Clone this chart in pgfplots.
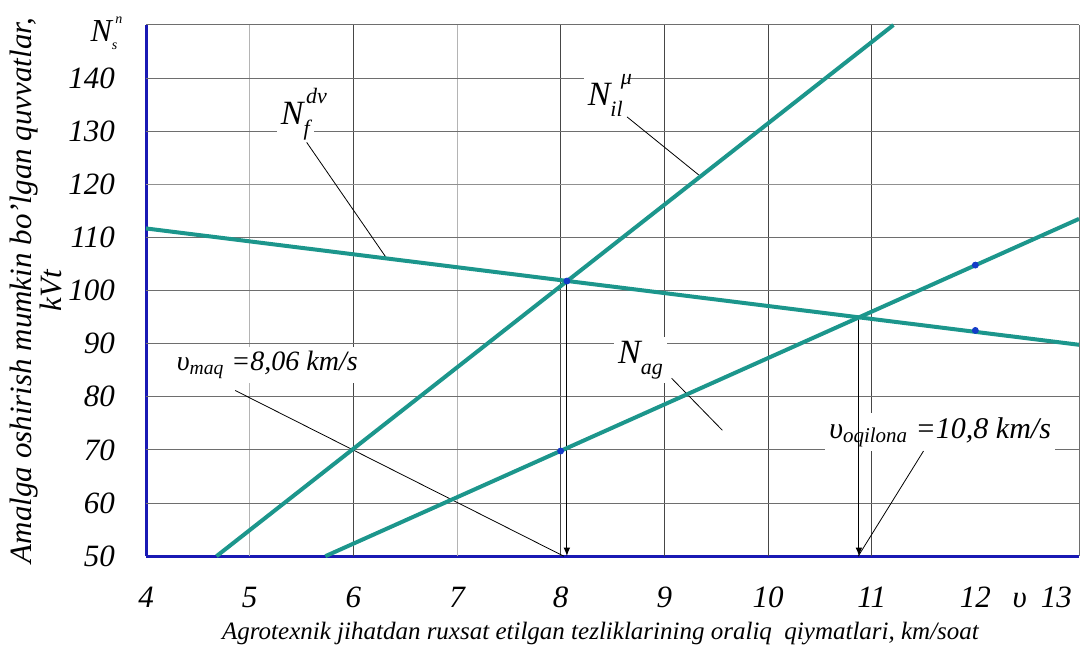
\documentclass[border=0pt]{standalone}
\usepackage{fontspec}
\setmainfont{Liberation Serif}
\usepackage{pgfplots}
\pgfplotsset{compat=1.18}
\definecolor{teal1}{RGB}{28,150,140}
\definecolor{axblue}{RGB}{25,25,180}
\definecolor{dotblue}{RGB}{20,60,200}
\definecolor{gdark}{RGB}{70,70,70}
\definecolor{glight}{RGB}{180,180,180}
\definecolor{gmid}{RGB}{110,110,110}
\newcommand{\NN}[4][11]{N\rlap{\raisebox{0.62em}{\fontsize{#1}{#1}\selectfont\hspace{0.12em}#4}}\raisebox{-0.32em}{\fontsize{#1}{#1}\selectfont #3}}
\begin{document}
\begin{tikzpicture}
\begin{axis}[
 scale only axis, width=466.5pt, height=265.6pt,
 xmin=4, xmax=13, ymin=50, ymax=150,
 axis x line*=bottom, axis y line*=left,
 axis line style={axblue, line width=1.5pt, -},
 xtick={4,...,13}, xticklabels={4,5,6,7,8,9,10,11,12,{}},
 ytick={50,60,...,140}, yticklabels={50,60,70,80,90,100,110,120,130,140},
 major tick length=0pt,
 ticklabel style={font=\fontsize{15.5}{18}\selectfont\itshape},
 xticklabel style={yshift=-12pt},
 yticklabel style={xshift=-12pt},
 clip=false,
]
% grid
\draw[glight, line width=0.5pt] (axis cs:5,50) -- (axis cs:5,150);
\draw[glight, line width=0.5pt] (axis cs:7,50) -- (axis cs:7,150);
\draw[gdark, line width=0.5pt] (axis cs:6,50) -- (axis cs:6,150);
\draw[gdark, line width=0.5pt] (axis cs:8,50) -- (axis cs:8,150);
\draw[gdark, line width=0.5pt] (axis cs:9,50) -- (axis cs:9,150);
\draw[gdark, line width=0.5pt] (axis cs:10,50) -- (axis cs:10,150);
\draw[gdark, line width=0.5pt] (axis cs:11,50) -- (axis cs:11,150);
\draw[gmid, line width=0.5pt] (axis cs:13,50) -- (axis cs:13,150);
\draw[gmid, line width=0.5pt] (axis cs:4,60) -- (axis cs:13,60);
\draw[gmid, line width=0.5pt] (axis cs:4,70) -- (axis cs:13,70);
\draw[gmid, line width=0.5pt] (axis cs:4,80) -- (axis cs:13,80);
\draw[gmid, line width=0.5pt] (axis cs:4,90) -- (axis cs:13,90);
\draw[gmid, line width=0.5pt] (axis cs:4,100) -- (axis cs:13,100);
\draw[gmid, line width=0.5pt] (axis cs:4,110) -- (axis cs:13,110);
\draw[glight!80!black, line width=0.5pt] (axis cs:4,120) -- (axis cs:13,120);
\draw[gmid, line width=0.5pt] (axis cs:4,130) -- (axis cs:13,130);
\draw[gmid, line width=0.5pt] (axis cs:4,140) -- (axis cs:13,140);
\draw[gmid, line width=0.5pt] (axis cs:4,150) -- (axis cs:13,150);
% labels
\node[fill=white, inner sep=2pt, font=\fontsize{17}{20}\selectfont\itshape] at (axis cs:5.44,133.2) {\NN{N}{f}{dv}\hspace{0.9em}};
\node[fill=white, inner sep=2pt, font=\fontsize{17}{20}\selectfont\itshape] at (axis cs:8.43,136.7) {\NN{N}{il}{\hspace{0.35em}μ}};
\node[fill=white, inner sep=2pt, font=\fontsize{14}{17}\selectfont\itshape] at (axis cs:5.17,86) {υ\textsubscript{maq} =8,06 km/s};
\node[fill=white, inner sep=2pt, font=\fontsize{17}{20}\selectfont\itshape] at (axis cs:8.77,86.9) {N\raisebox{-0.32em}{\fontsize{11}{11}\selectfont ag}};
\node[fill=white, inner sep=2pt, font=\fontsize{15}{18}\selectfont\itshape] at (axis cs:11.66,73.3) {υ\textsubscript{oqilona} =10,8 km/s};
% leader lines
\addplot[black, line width=0.4pt] coordinates {(5.55,127.9) (6.31,106.4)};
\addplot[black, line width=0.4pt] coordinates {(8.64,132.7) (9.33,121.8)};
\addplot[black, line width=0.4pt] coordinates {(4.86,81.2) (8.03,50)};
\addplot[black, line width=0.4pt] coordinates {(9.07,83.5) (9.56,73.7)};
\addplot[black, line width=0.4pt] coordinates {(11.5,69.8) (10.87,50)};
% arrows
\addplot[black, line width=0.5pt, -latex] coordinates {(8.06,101.8) (8.06,50)};
\addplot[black, line width=0.5pt, -latex] coordinates {(10.877,95.0) (10.877,50)};
% data lines
\addplot[teal1, line width=2pt] coordinates {(4,111.7) (13,89.8)};
\addplot[teal1, line width=2pt] coordinates {(4.68,50) (11.21,150)};
\addplot[teal1, line width=2pt] coordinates {(5.73,50) (13,113.5)};
\addplot[only marks, mark=*, mark size=1.5pt, dotblue] coordinates {(8.06,101.8) (8,69.8) (12,104.8) (12,92.5)};
% extra text
\node[font=\fontsize{16}{18}\selectfont\itshape, inner sep=0pt] at ([xshift=-21pt,yshift=-4pt]axis cs:4,150) {N\rlap{\raisebox{0.55em}{\fontsize{7}{7}\selectfont\hspace{0.25em}n}}\raisebox{-0.25em}{\fontsize{7}{7}\selectfont s}\hspace{0.4em}};
\node[anchor=north east, font=\fontsize{15.5}{18}\selectfont\itshape, yshift=-12pt] at (axis cs:13,50) {υ\hspace{7pt}13};
\node[font=\fontsize{12.5}{15}\selectfont\itshape] at ([xshift=-6pt,yshift=-38.6pt]rel axis cs:0.5,0) {Agrotexnik jihatdan ruxsat etilgan tezliklarining oraliq\ \ qiymatlari, km/soat};
\node[rotate=90, align=center, font=\fontsize{15.5}{11}\selectfont\itshape] at ([xshift=-55pt]rel axis cs:0,0.5) {Amalga oshirish mumkin bo'lgan quvvatlar,\\ kVt};
\end{axis}
\pgfresetboundingbox
\path[use as bounding box] ([xshift=-73pt,yshift=-47.1pt]current axis.south west) rectangle ([xshift=2pt,yshift=12.5pt]current axis.north east);
\end{tikzpicture}
\end{document}
